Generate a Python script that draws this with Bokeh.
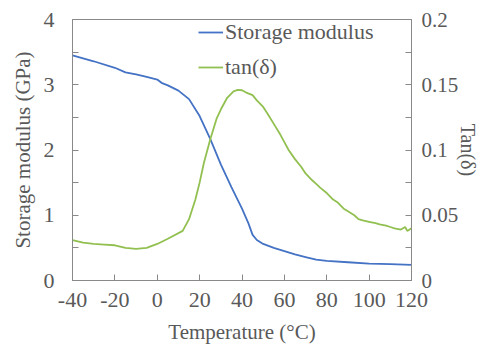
from bokeh.plotting import figure
from bokeh.models import (LinearAxis, Range1d, FixedTicker, CustomJSTickFormatter,
                          Legend, LegendItem)
from bokeh.embed import file_html
from bokeh.resources import INLINE

# Storage modulus (GPa) vs temperature
temp_e = [-40, -30, -20, -15, -10, -5, 0, 2, 5, 10, 15, 20, 25, 30, 35, 40, 43, 45, 47,
          50, 55, 60, 65, 70, 75, 80, 90, 100, 110, 120]
storage = [3.45, 3.36, 3.26, 3.19, 3.16, 3.12, 3.08, 3.03, 2.99, 2.91, 2.78, 2.52, 2.17,
           1.78, 1.43, 1.10, 0.88, 0.70, 0.62, 0.56, 0.50, 0.45, 0.40, 0.36, 0.32, 0.30,
           0.28, 0.26, 0.25, 0.24]

# tan(delta) vs temperature
temp_t = [-40, -35, -30, -25, -20, -15, -10, -5, 0, 5, 12, 15, 18, 20, 22, 25, 28, 30,
          33, 36, 38, 40, 42, 45, 47, 50, 52, 55, 58, 60, 62, 65, 68, 70, 73, 75, 77, 80,
          83, 85, 88, 90, 93, 95, 97, 100, 103, 105, 108, 110, 112, 115, 117, 118, 120]
tan_delta = [0.031, 0.029, 0.028, 0.0275, 0.027, 0.025, 0.0243, 0.025, 0.028, 0.032,
             0.038, 0.047, 0.062, 0.075, 0.090, 0.108, 0.124, 0.131, 0.140, 0.145, 0.146,
             0.1458, 0.144, 0.142, 0.138, 0.133, 0.128, 0.120, 0.112, 0.106, 0.100, 0.093,
             0.087, 0.082, 0.077, 0.074, 0.071, 0.067, 0.062, 0.060, 0.055, 0.053, 0.050,
             0.047, 0.046, 0.045, 0.044, 0.043, 0.042, 0.041, 0.040, 0.039, 0.041, 0.038,
             0.040]

x_ticks = [-40, -20, 0, 20, 40, 60, 80, 100, 120]
left_ticks = [0, 1, 2, 3, 4]
left_minor = [0.5, 1.5, 2.5, 3.5]
right_ticks = [0, 0.05, 0.1, 0.15, 0.2]
right_minor = [0.025, 0.075, 0.125, 0.175]

FONT = "'Liberation Serif'"
TXT = "#595959"
AX = "#898989"
BLUE = "#4472C4"
GREEN = "#92C050"

p = figure(width=482, height=346, output_backend="svg", toolbar_location=None,
           x_range=Range1d(-40, 120), y_range=Range1d(0, 4),
           min_border_left=72, min_border_right=71, min_border_top=19, min_border_bottom=64)
p.extra_y_ranges = {"tan": Range1d(0, 0.2)}
p.xgrid.visible = False
p.ygrid.visible = False
p.outline_line_color = AX
p.background_fill_color = "white"
p.border_fill_color = "white"

r1 = p.line(temp_e, storage, line_color=BLUE, line_width=1.8)
r2 = p.line(temp_t, tan_delta, line_color=GREEN, line_width=1.8, y_range_name="tan")

right = LinearAxis(y_range_name="tan", axis_label="Tan(δ)")
p.add_layout(right, "right")

fmt = CustomJSTickFormatter(code="return String(Math.round(tick*1000)/1000);")

def style(ax):
    ax.axis_line_color = AX
    ax.major_tick_line_color = AX
    ax.minor_tick_line_color = AX
    ax.major_tick_in = 6
    ax.major_tick_out = 0
    ax.minor_tick_in = 6
    ax.minor_tick_out = 0
    ax.major_label_text_font = FONT
    ax.major_label_text_font_size = "22px"
    ax.major_label_text_color = TXT
    ax.axis_label_text_font = FONT
    ax.axis_label_text_font_size = "21px"
    ax.axis_label_text_color = TXT
    ax.axis_label_text_font_style = "normal"
    ax.formatter = fmt

xa = p.xaxis[0]
xa.ticker = FixedTicker(ticks=x_ticks)
xa.axis_label = "Temperature (°C)"
style(xa)
xa.minor_tick_in = 0
xa.major_label_standoff = 12
xa.axis_label_standoff = 10

ya = p.yaxis[0]
ya.ticker = FixedTicker(ticks=left_ticks, minor_ticks=left_minor)
ya.axis_label = "Storage modulus (GPa)"
style(ya)
ya.major_label_standoff = 18
ya.axis_label_standoff = 6

right.ticker = FixedTicker(ticks=right_ticks, minor_ticks=right_minor)
style(right)
right.major_label_standoff = 10
right.axis_label_standoff = -4
right.major_label_text_font_size = "21px"
right.axis_label_text_font_size = "20px"

legend = Legend(items=[LegendItem(label="Storage modulus", renderers=[r1]),
                       LegendItem(label="tan(δ)", renderers=[r2])],
                location=(126, 200), padding=0, margin=0, spacing=9,
                glyph_width=25, glyph_height=22, label_height=22, label_standoff=2,
                label_text_font=FONT, label_text_font_size="22px", label_text_color=TXT,
                border_line_color=None, background_fill_alpha=0)
p.add_layout(legend, "center")

open("out.html", "w").write(file_html(p, INLINE))
